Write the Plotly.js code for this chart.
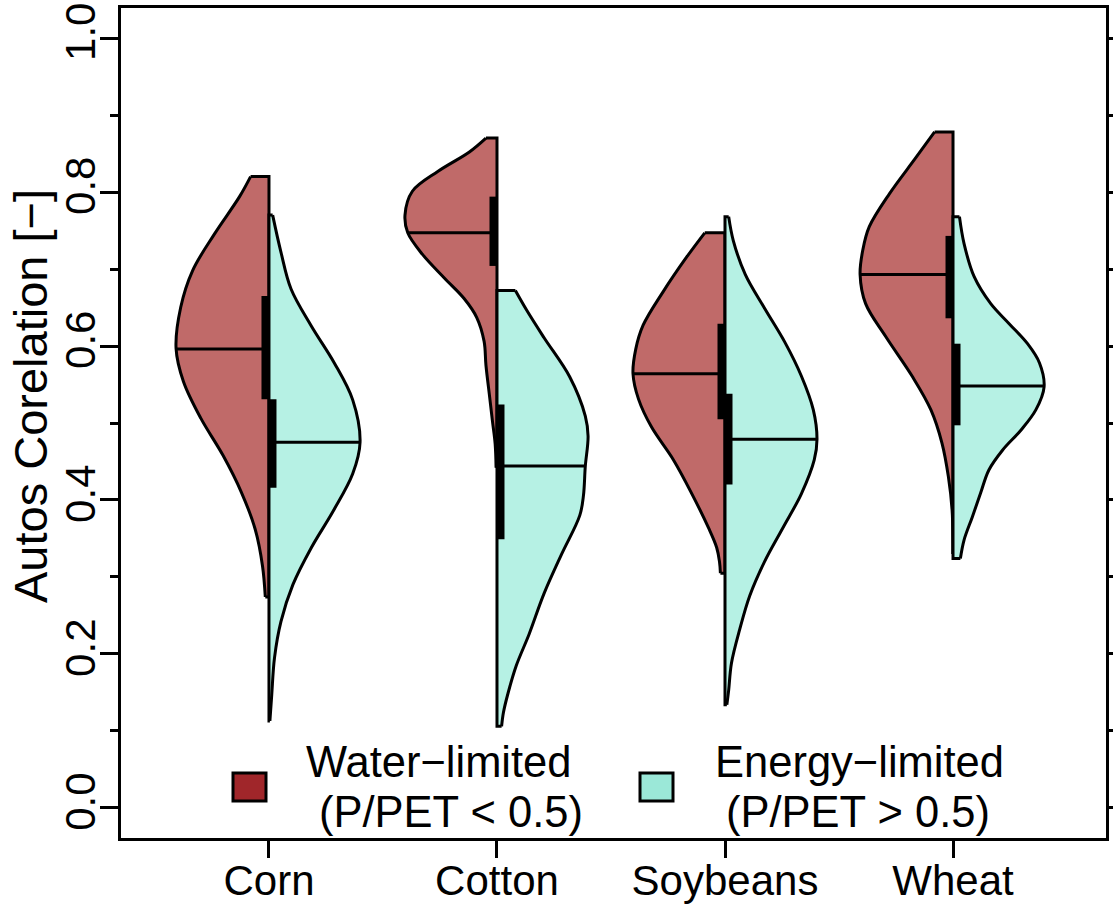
<!DOCTYPE html>
<html><head><meta charset="utf-8">
<script src="https://cdn.plot.ly/plotly-3.0.1.min.js"></script>
<style>html,body{margin:0;padding:0;background:#fff}#chart{width:1113px;height:907px}</style>
</head><body><div id="chart"></div><script>
// ---- data ----
const categories = ['Corn', 'Cotton', 'Soybeans', 'Wheat'];

// Water-limited (left halves): y levels and relative density (half-width)
const waterY = [
  [0.274,0.314,0.362,0.410,0.458,0.506,0.554,0.597,0.650,0.698,0.746,0.794,0.820],
  [0.442,0.473,0.503,0.534,0.575,0.606,0.637,0.662,0.688,0.719,0.747,0.770,0.801,0.827,0.852,0.870],
  [0.305,0.320,0.338,0.364,0.408,0.452,0.495,0.531,0.564,0.596,0.627,0.671,0.715,0.747],
  [0.330,0.344,0.387,0.430,0.474,0.517,0.560,0.612,0.655,0.693,0.725,0.755,0.798,0.842,0.878]
];
const waterDens = [
  [0.04,0.07,0.15,0.30,0.50,0.74,0.93,1.01,0.96,0.83,0.59,0.32,0.20],
  [0.01,0.02,0.05,0.08,0.12,0.14,0.22,0.36,0.57,0.81,0.97,1.00,0.92,0.64,0.30,0.12],
  [0.05,0.06,0.09,0.18,0.36,0.56,0.80,0.94,1.00,0.97,0.89,0.67,0.42,0.22],
  [0.00,0.00,0.01,0.05,0.12,0.24,0.44,0.73,0.95,1.01,0.98,0.91,0.69,0.42,0.20]
];
// Energy-limited (right halves)
const energyY = [
  [0.113,0.147,0.195,0.242,0.290,0.338,0.386,0.434,0.475,0.530,0.578,0.626,0.674,0.722,0.770],
  [0.106,0.124,0.149,0.185,0.226,0.278,0.329,0.380,0.406,0.444,0.483,0.509,0.560,0.611,0.647,0.672],
  [0.134,0.153,0.188,0.232,0.276,0.320,0.364,0.408,0.452,0.479,0.517,0.561,0.605,0.649,0.693,0.737,0.768],
  [0.324,0.348,0.378,0.409,0.439,0.465,0.491,0.517,0.547,0.578,0.603,0.629,0.655,0.690,0.733,0.768]
];
const energyDens = [
  [0.01,0.03,0.06,0.13,0.26,0.46,0.70,0.91,0.99,0.91,0.71,0.46,0.24,0.13,0.04],
  [0.05,0.07,0.12,0.21,0.35,0.51,0.70,0.90,0.94,0.96,0.99,0.96,0.79,0.51,0.32,0.20],
  [0.02,0.04,0.07,0.16,0.27,0.43,0.63,0.83,0.97,1.00,0.96,0.83,0.65,0.43,0.22,0.09,0.04],
  [0.08,0.12,0.21,0.30,0.39,0.54,0.74,0.90,0.99,0.94,0.81,0.61,0.41,0.23,0.12,0.07]
];
const waterMedian  = [0.596, 0.747, 0.564, 0.693];
const energyMedian = [0.475, 0.444, 0.479, 0.548];
const waterQ1  = [0.531, 0.704, 0.505, 0.636];
const waterQ3  = [0.665, 0.794, 0.629, 0.743];
const energyQ1 = [0.416, 0.349, 0.420, 0.497];
const energyQ3 = [0.531, 0.524, 0.538, 0.603];

const yTickVals = [0.0, 0.2, 0.4, 0.6, 0.8, 1.0];
const yTickText = ['0.0', '0.2', '0.4', '0.6', '0.8', '1.0'];
const yMinorVals = [0.1, 0.3, 0.5, 0.7, 0.9];
const yRightVals = [0.0,0.1,0.2,0.3,0.4,0.5,0.6,0.7,0.8,0.9,1.0];

const legendLine1 = ['Water\u2212limited', 'Energy\u2212limited'];
const legendLine2 = ['(P/PET < 0.5)', '(P/PET > 0.5)'];

// ---- styling ----
const FONT = 'Liberation Sans, Arial, Helvetica, sans-serif';
const RED_FILL = '#C06A69', CYAN_FILL = '#B6F1E4';
const RED_KEY = '#A0262A', CYAN_KEY = '#9BE8D8';
const XRANGE = [0.351, 4.671];
const PLOT_W = 985;
const PX = (XRANGE[1] - XRANGE[0]) / PLOT_W;  // x units per pixel
const WSCALE = 92 * PX;                          // half-width for density 1
const LW = 3;

function interp(ys, ds, v) {
  for (let i = 0; i < ys.length - 1; i++) {
    if (v >= ys[i] && v <= ys[i+1]) {
      const t = (v - ys[i]) / (ys[i+1] - ys[i]);
      return ds[i] + t * (ds[i+1] - ds[i]);
    }
  }
  return 0;
}

function halfViolin(pos, ys, ds, side, fill) {
  const n = ys.length;
  const ex = ds.map(d => pos + side * d * WSCALE);
  const base = {type: 'scatter', mode: 'lines', hoverinfo: 'skip', showlegend: false};
  const a = Object.assign({}, base, {
    x: [ex[0], pos, pos, ex[n-1]], y: [ys[0], ys[0], ys[n-1], ys[n-1]],
    line: {color: 'black', width: LW}
  });
  const b = Object.assign({}, base, {
    x: ex, y: ys, line: {color: 'black', width: LW, shape: 'spline', smoothing: 1},
    fill: 'tonextx', fillcolor: fill
  });
  return [a, b];
}

const traces = [];
categories.forEach((c, i) => {
  const pos = i + 1;
  traces.push(...halfViolin(pos, waterY[i], waterDens[i], -1, RED_FILL));
  traces.push(...halfViolin(pos, energyY[i], energyDens[i], 1, CYAN_FILL));
});
// medians and IQR bars
categories.forEach((c, i) => {
  const pos = i + 1;
  const wm = interp(waterY[i], waterDens[i], waterMedian[i]);
  const em = interp(energyY[i], energyDens[i], energyMedian[i]);
  traces.push({type: 'scatter', mode: 'lines', hoverinfo: 'skip', showlegend: false,
    x: [pos, pos - wm * WSCALE], y: [waterMedian[i], waterMedian[i]], line: {color: 'black', width: LW}});
  traces.push({type: 'scatter', mode: 'lines', hoverinfo: 'skip', showlegend: false,
    x: [pos, pos + em * WSCALE], y: [energyMedian[i], energyMedian[i]], line: {color: 'black', width: LW}});
  traces.push({type: 'scatter', mode: 'lines', hoverinfo: 'skip', showlegend: false,
    x: [pos - 3.5 * PX, pos - 3.5 * PX], y: [waterQ1[i], waterQ3[i]], line: {color: 'black', width: 8}});
  traces.push({type: 'scatter', mode: 'lines', hoverinfo: 'skip', showlegend: false,
    x: [pos + 3.5 * PX, pos + 3.5 * PX], y: [energyQ1[i], energyQ3[i]], line: {color: 'black', width: 8}});
});
// dummy for right axis
traces.push({type: 'scatter', mode: 'markers', x: [null], y: [null], yaxis: 'y2', hoverinfo: 'skip', showlegend: false});

// legend (manual)
const L = 121, B = 838, H = 830;
const px2x = p => (p - L) / PLOT_W;
const px2y = p => (B - p) / H;
const shapes = [
  {type: 'rect', xref: 'paper', yref: 'paper', x0: px2x(233), x1: px2x(266), y0: px2y(801), y1: px2y(773),
   fillcolor: RED_KEY, line: {color: 'black', width: 3}},
  {type: 'rect', xref: 'paper', yref: 'paper', x0: px2x(640), x1: px2x(673), y0: px2y(801), y1: px2y(773),
   fillcolor: CYAN_KEY, line: {color: 'black', width: 3}}
];
const legX1 = [304, 713], legX2 = [317, 724];
const annotations = [];
for (let k = 0; k < 2; k++) {
  annotations.push({xref: 'paper', yref: 'paper', x: px2x(legX1[k]), y: px2y(762), xanchor: 'left', yanchor: 'middle',
    text: legendLine1[k], showarrow: false, font: {family: FONT, size: 43.5, color: 'black'}});
  annotations.push({xref: 'paper', yref: 'paper', x: px2x(legX2[k]), y: px2y(812), xanchor: 'left', yanchor: 'middle',
    text: legendLine2[k], showarrow: false, font: {family: FONT, size: 43.5, color: 'black'}});
}
annotations.push({xref: 'paper', yref: 'paper', x: px2x(30), y: px2y(396), xanchor: 'center', yanchor: 'middle',
  textangle: -90, text: 'Autos Corelation [\u2212]', showarrow: false, font: {family: FONT, size: 47, color: 'black'}});

const layout = {
  width: 1113, height: 907,
  margin: {l: 121, r: 7, t: 8, b: 69, pad: 0},
  paper_bgcolor: 'white', plot_bgcolor: 'white',
  font: {family: FONT, size: 42, color: 'black'},
  showlegend: false,
  xaxis: {range: XRANGE, tickmode: 'array', tickvals: [1, 2, 3, 4], ticktext: categories,
    ticks: 'outside', ticklen: 17, tickwidth: 3, tickcolor: 'black', ticklabelstandoff: -13,
    showline: true, linewidth: 3, linecolor: 'black', mirror: true,
    showgrid: false, zeroline: false, tickfont: {family: FONT, size: 42, color: 'black'}},
  yaxis: {range: [-0.039, 1.039], tickmode: 'array', tickvals: yTickVals, ticktext: yTickText, tickangle: -90,
    ticks: 'outside', ticklen: 18, tickwidth: 3, tickcolor: 'black', ticklabelstandoff: -12,
    minor: {tickmode: 'array', tickvals: yMinorVals, ticks: 'outside', ticklen: 8, tickwidth: 3, tickcolor: 'black', showgrid: false},
    showline: true, linewidth: 3, linecolor: 'black', mirror: true,
    showgrid: false, zeroline: false, tickfont: {family: FONT, size: 42, color: 'black'}},
  yaxis2: {range: [-0.039, 1.039], overlaying: 'y', side: 'right', tickmode: 'array', tickvals: yRightVals,
    ticks: 'outside', ticklen: 7, tickwidth: 3, tickcolor: 'black', showticklabels: false,
    showline: false, showgrid: false, zeroline: false},
  shapes: shapes,
  annotations: annotations
};

Plotly.newPlot('chart', traces, layout, {displayModeBar: false, staticPlot: true});
</script></body></html>
